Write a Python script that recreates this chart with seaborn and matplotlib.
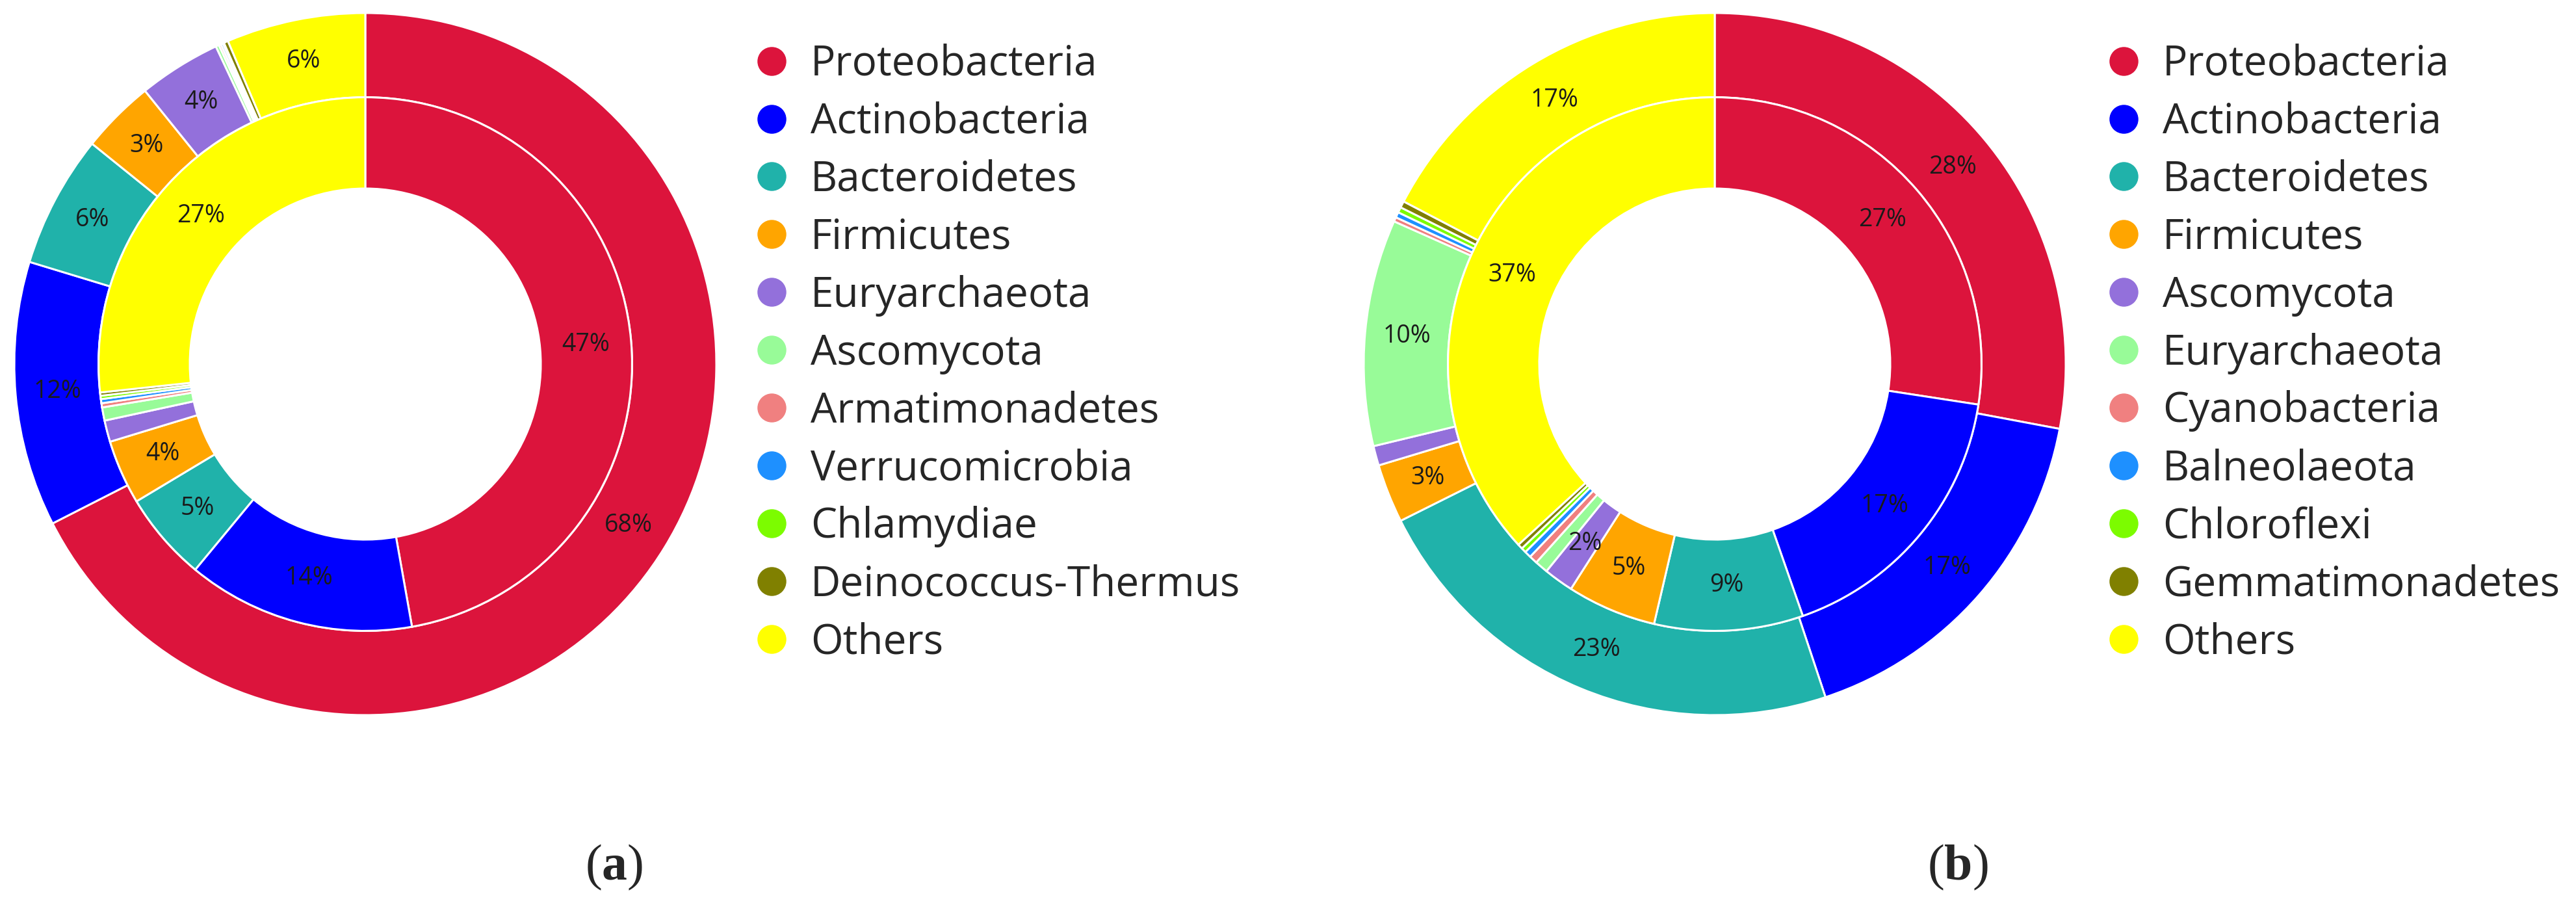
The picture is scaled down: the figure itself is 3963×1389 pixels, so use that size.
import numpy as np
import matplotlib
matplotlib.use('Agg')
import matplotlib.pyplot as plt
from matplotlib.lines import Line2D
import seaborn as sns

sns.set_theme(style="white")
plt.rcParams['font.family'] = ['Open Sans', 'DejaVu Sans']
plt.rcParams['mathtext.fontset'] = 'custom'
plt.rcParams['mathtext.rm'] = 'Liberation Serif'
plt.rcParams['mathtext.bf'] = 'Liberation Serif:bold'

# colours by legend position (same order in both panels)
colors = ['#DC143C', '#0000FF', '#20B2AA', '#FFA500', '#9370DB', '#98FB98',
          '#F08080', '#1E90FF', '#7CFC00', '#808000', '#FFFF00']

# panel (a)
labels_a = ['Proteobacteria', 'Actinobacteria', 'Bacteroidetes', 'Firmicutes',
            'Euryarchaeota', 'Ascomycota', 'Armatimonadetes', 'Verrucomicrobia',
            'Chlamydiae', 'Deinococcus-Thermus', 'Others']
inner_a = [47.2, 13.8, 5.4, 3.9, 1.3, 0.8, 0.25, 0.25, 0.2, 0.2, 26.7]
outer_a = [67.5, 12.2, 6.1, 3.4, 3.8, 0.15, 0.1, 0.1, 0.05, 0.2, 6.4]

# panel (b)
labels_b = ['Proteobacteria', 'Actinobacteria', 'Bacteroidetes', 'Firmicutes',
            'Ascomycota', 'Euryarchaeota', 'Cyanobacteria', 'Balneolaeota',
            'Chloroflexi', 'Gemmatimonadetes', 'Others']
inner_b = [27.4, 17.2, 9.0, 5.4, 1.8, 0.8, 0.5, 0.4, 0.3, 0.3, 36.8]
outer_b = [27.9, 16.9, 22.7, 2.7, 0.9, 10.4, 0.2, 0.25, 0.25, 0.3, 17.3]

W, H = 3963, 1389
fig = plt.figure(figsize=(W / 100, H / 100), dpi=100)

R = 540  # outer radius in px


def pct(p):
    return f'{p:.0f}%' if p >= 1.5 else ''


def donut(cx, cy, inner, outer):
    ax = fig.add_axes([(cx - R) / W, 1 - (cy + R) / H, 2 * R / W, 2 * R / H])
    wp = dict(edgecolor='white', linewidth=2.2)
    tp = dict(fontsize=27, color='#1a1a1a')
    ax.pie(outer, colors=colors, radius=1.0, startangle=90, counterclock=False,
           autopct=pct, pctdistance=0.88, wedgeprops=dict(width=0.24, **wp),
           textprops=tp)
    ax.pie(inner, colors=colors, radius=0.76, startangle=90, counterclock=False,
           autopct=pct, pctdistance=0.83, wedgeprops=dict(width=0.26, **wp),
           textprops=tp)
    ax.set_xlim(-1, 1)
    ax.set_ylim(-1, 1)
    ax.set_aspect('equal')
    ax.axis('off')
    return ax


def add_legend(labels, x0, y0):
    handles = [Line2D([], [], marker='o', linestyle='', markersize=31,
                      markerfacecolor=c, markeredgecolor=c) for c in colors]
    fig.legend(handles, labels, loc='upper left',
               bbox_to_anchor=(x0 / W, 1 - y0 / H), frameon=False,
               fontsize=46, handlelength=0.75, handletextpad=0.56,
               labelspacing=0.39, borderpad=0, borderaxespad=0)


donut(562, 560, inner_a, outer_a)
donut(2638, 560, inner_b, outer_b)
add_legend(labels_a, 1163, 67)
add_legend(labels_b, 3243, 67)

for x, s in [(945, 'a'), (3012, 'b')]:
    fig.text(x / W, 1 - 1333 / H, r'$\mathrm{(}\mathbf{' + s + r'}\mathrm{)}$',
             ha='center', va='center', fontsize=56)

fig.savefig('out.png', dpi=100, facecolor='white')
